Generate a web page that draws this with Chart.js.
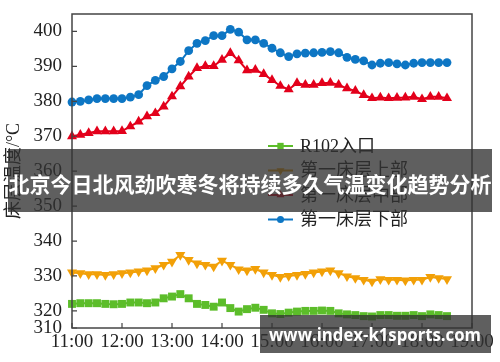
<!DOCTYPE html>
<html>
<head>
<meta charset="utf-8">
<script src="https://cdn.jsdelivr.net/npm/chart.js@4"></script>
<style>
  html, body { margin: 0; padding: 0; background: #fff; }
  #wrap { position: relative; width: 500px; height: 362px; }
</style>
</head>
<body>
<div id="wrap"><canvas id="chart"></canvas></div>
<script>
// ─── Data ─────────────────────────────────────────────────
const times = [
  '11:00','11:10','11:20','11:30','11:40','11:50',
  '12:00','12:10','12:20','12:30','12:40','12:50',
  '13:00','13:10','13:20','13:30','13:40','13:50',
  '14:00','14:10','14:20','14:30','14:40','14:50',
  '15:00','15:10','15:20','15:30','15:40','15:50',
  '16:00','16:10','16:20','16:30','16:40','16:50',
  '17:00','17:10','17:20','17:30','17:40','17:50',
  '18:00','18:10','18:20','18:30'
];

const r102Inlet = [
  322.0, 322.2, 322.2, 322.2, 322.0, 321.9, 322.0, 322.4, 322.4, 322.2, 322.4, 323.6,
  324.1, 324.8, 323.6, 322.0, 321.7, 321.2, 322.4, 320.8, 319.8, 320.5,
  320.9, 320.3, 319.3, 319.1, 319.5, 319.8, 320.0, 320.0, 320.1, 320.0, 319.3, 319.0,
  318.8, 318.5, 318.4, 318.8, 318.8, 318.6, 318.6, 318.8, 318.5, 319.0, 318.8, 318.5
];

const bedUpper = [
  331.0, 330.8, 330.5, 330.5, 330.3, 330.5, 330.8, 331.0, 331.3, 331.6, 332.2, 333.2,
  334.1, 336.0, 334.6, 333.6, 333.2, 332.7, 334.4, 333.2, 331.9, 331.6,
  332.0, 331.0, 330.3, 329.7, 330.0, 330.3, 330.6, 331.0, 331.3, 331.6, 330.8, 329.9,
  329.4, 328.9, 328.4, 329.1, 328.9, 328.9, 328.7, 328.9, 328.9, 329.7, 329.4, 329.1
];

const bedMiddle = [
  370.0, 370.4, 370.9, 371.4, 371.4, 371.4, 371.5, 372.8, 374.2, 375.7, 376.6, 378.5,
  381.4, 384.3, 387.1, 389.5, 390.1, 390.1, 391.9, 393.8, 391.7, 388.9,
  389.0, 387.8, 386.1, 384.4, 383.4, 385.2, 384.7, 384.7, 385.2, 385.3, 384.7, 383.7,
  383.0, 381.8, 380.9, 381.1, 380.9, 381.0, 381.1, 381.3, 380.6, 381.3, 381.3, 380.9
];

const bedLower = [
  379.8, 380.0, 380.4, 380.8, 380.8, 380.8, 380.8, 381.2, 381.9, 384.5, 386.0, 387.1,
  389.3, 391.4, 394.5, 396.6, 397.4, 398.8, 398.8, 400.6, 399.8, 397.6,
  397.6, 396.6, 395.2, 393.9, 392.8, 393.6, 393.8, 393.9, 394.0, 394.2, 393.9, 392.6,
  392.0, 391.6, 390.4, 390.9, 391.1, 390.7, 390.4, 390.9, 391.1, 391.1, 391.1, 391.1
];

const seriesNames = ['R102入口', '第一床层上部', '第一床层中部', '第一床层下部'];
const xTickLabels = ['11:00','12:00','13:00','14:00','15:00','16:00','17:00','18:00','19:00'];
const yTickLabels = [310, 320, 330, 340, 350, 360, 370, 380, 390, 400];
const Y_MIN = 315.1;
const Y_MAX = 405;

const bannerText = '北京今日北风劲吹寒冬将持续多久气温变化趋势分析';
const watermarkText = 'www.index-k1sports.com';

// ─── Helpers ─────────────────────────────────────────────
const toMin = t => { const [h, m] = t.split(':').map(Number); return h * 60 + m; };
const points = arr => arr.map((v, i) => ({ x: toMin(times[i]), y: v }));

const SERIF = "'Liberation Serif', 'Times New Roman', 'Noto Sans CJK SC', serif";
const AXIS_COLOR = '#444';
const TEXT_COLOR = '#222';

const COLORS = {
  green:  '#5cbd2a',
  orange: '#f2a007',
  red:    '#e3001b',
  blue:   '#0d76c4',
};

function series(label, data, color, style, radius, rotation = 0) {
  return {
    label,
    data: points(data),
    borderColor: color,
    backgroundColor: color,
    borderWidth: 2,
    pointStyle: style,
    pointRadius: radius,
    pointRotation: rotation,
    pointBorderWidth: 0,
    pointBackgroundColor: color,
    tension: 0,
    clip: false,
  };
}

// no extra room for half-labels at the axis ends
const noEdgePad = s => { s.paddingTop = 0; s.paddingBottom = 0; s.paddingLeft = 0; s.paddingRight = 0; };

// inward ticks + frame + custom legend + overlays
const decorPlugin = {
  id: 'decor',
  afterDraw(chart) {
    const ctx = chart.ctx;
    const { left, right, top, bottom } = chart.chartArea;
    const xs = chart.scales.x, ys = chart.scales.y;

    ctx.save();
    ctx.strokeStyle = AXIS_COLOR;
    ctx.lineWidth = 1.5;
    ctx.strokeRect(left, top, right - left, bottom - top);

    ctx.lineWidth = 1.2;
    ctx.beginPath();
    ys.ticks.forEach(t => {
      const py = ys.getPixelForValue(t.value);
      ctx.moveTo(left, py); ctx.lineTo(left + 5, py);
    });
    xs.ticks.forEach(t => {
      const px = xs.getPixelForValue(t.value);
      ctx.moveTo(px, bottom); ctx.lineTo(px, bottom - 5);
    });
    ctx.stroke();

    // legend
    const lx = 268, ly = 146, gap = 24.5;
    chart.data.datasets.forEach((ds, i) => {
      const y = ly + i * gap;
      ctx.strokeStyle = ds.borderColor;
      ctx.lineWidth = 2;
      ctx.beginPath();
      ctx.moveTo(lx, y); ctx.lineTo(lx + 25, y);
      ctx.stroke();
      ctx.fillStyle = ds.borderColor;
      Chart.helpers.drawPoint(ctx, {
        pointStyle: ds.pointStyle, rotation: ds.pointRotation,
        radius: ds.pointRadius * 0.8, borderWidth: 0
      }, lx + 12.5, y);
      ctx.fillStyle = TEXT_COLOR;
      ctx.font = '18px ' + SERIF;
      ctx.textAlign = 'left';
      ctx.textBaseline = 'middle';
      ctx.fillText(ds.label, lx + 32, y + 1);
    });

    // title banner
    ctx.fillStyle = 'rgba(50, 50, 50, 0.78)';
    ctx.fillRect(8, 149, 484, 63);
    ctx.fillStyle = '#fff';
    ctx.font = "bold 21px 'Noto Sans CJK SC', sans-serif";
    ctx.textAlign = 'center';
    ctx.textBaseline = 'middle';
    ctx.fillText(bannerText, 250, 184, 486);

    // watermark
    ctx.fillStyle = 'rgba(50, 50, 50, 0.78)';
    ctx.fillRect(260, 315, 231, 38);
    ctx.fillStyle = '#fff';
    ctx.font = "bold 18px 'Open Sans', 'Noto Sans', sans-serif";
    ctx.fillText(watermarkText, 375, 336, 212);
    ctx.restore();
  }
};

// ─── Chart ───────────────────────────────────────────────
new Chart(document.getElementById('chart'), {
  type: 'line',
  data: {
    datasets: [
      series(seriesNames[0], r102Inlet, COLORS.green,  'rect',     5.6),
      series(seriesNames[1], bedUpper,  COLORS.orange, 'triangle', 5.8, 180),
      series(seriesNames[2], bedMiddle, COLORS.red,    'triangle', 5.8),
      series(seriesNames[3], bedLower,  COLORS.blue,   'circle',   4.4),
    ]
  },
  options: {
    responsive: true,
    maintainAspectRatio: false,
    animation: false,
    devicePixelRatio: 1,
    layout: { padding: { top: 14, right: 28, left: 0, bottom: 0 } },
    plugins: { legend: { display: false }, tooltip: { enabled: false } },
    scales: {
      x: {
        type: 'linear',
        min: toMin(xTickLabels[0]),
        max: toMin(xTickLabels[xTickLabels.length - 1]),
        afterBuildTicks: s => { s.ticks = xTickLabels.map(t => ({ value: toMin(t) })); },
        afterFit: s => { s.height = 34; noEdgePad(s); },
        grid: { display: false, drawTicks: false },
        border: { display: false },
        ticks: {
          autoSkip: false, maxRotation: 0, padding: 3,
          color: TEXT_COLOR, font: { family: SERIF, size: 19 },
          callback: (v, i) => xTickLabels[i]
        }
      },
      y: {
        min: Y_MIN,
        max: Y_MAX,
        afterBuildTicks: s => { s.ticks = yTickLabels.map(v => ({ value: Math.max(v, Y_MIN) })); },
        afterFit: s => { s.width = 72; noEdgePad(s); },
        grid: { display: false, drawTicks: false },
        border: { display: false },
        ticks: {
          padding: 10, color: TEXT_COLOR, font: { family: SERIF, size: 19 },
          callback: (v, i) => String(yTickLabels[i])
        },
        title: {
          display: true, text: '床层温度/°C', color: TEXT_COLOR,
          font: { family: SERIF, size: 18 }, padding: { top: 3, bottom: 0 }
        }
      }
    }
  },
  plugins: [decorPlugin]
});
</script>
</body>
</html>
